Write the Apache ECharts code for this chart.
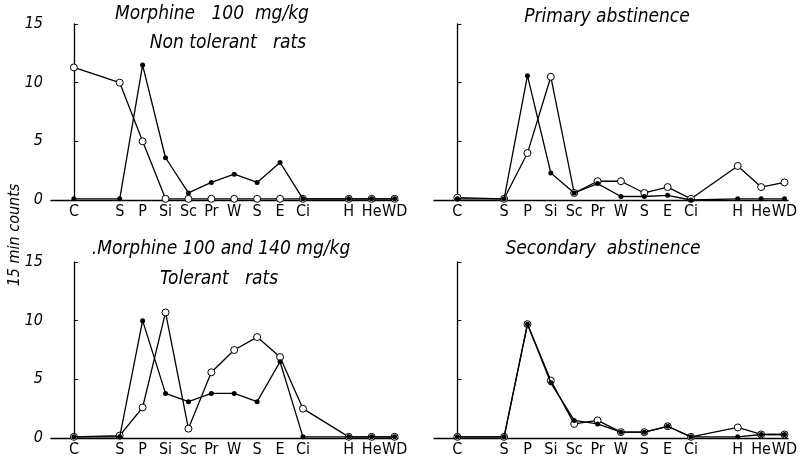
<!DOCTYPE html>
<html>
<head>
<meta charset="utf-8">
<script src="https://cdn.jsdelivr.net/npm/echarts@6/dist/echarts.min.js"></script>
<style>
  html, body { margin: 0; padding: 0; background: #fff; }
  #chart { width: 803px; height: 463px; }
</style>
</head>
<body>
<div id="chart"></div>
<script>
// stimulus schedule along the x axis (gaps before S and before H)
const catNames = ["C", "S", "P", "Si", "Sc", "Pr", "W", "S", "E", "Ci", "H", "He", "WD"];
const catPos = [0, 2, 3, 4, 5, 6, 7, 8, 9, 10, 12, 13, 14];
const yTicks = [0, 5, 10, 15];

// 15 min counts
const nonTolOpen   = [11.3, 10.0, 5.0, 0.1, 0.1, 0.1, 0.1, 0.1, 0.1, 0.1, 0.1, 0.1, 0.1];
const nonTolFilled = [0.1, 0.1, 11.5, 3.6, 0.6, 1.5, 2.2, 1.5, 3.2, 0.1, 0.1, 0.1, 0.1];
const primOpen     = [0.2, 0.1, 4.0, 10.5, 0.6, 1.6, 1.6, 0.6, 1.1, 0.1, 2.9, 1.1, 1.5];
const primFilled   = [0.1, 0.1, 10.6, 2.3, 0.6, 1.4, 0.3, 0.3, 0.4, 0.0, 0.1, 0.1, 0.1];
const tolOpen      = [0.1, 0.2, 2.6, 10.7, 0.8, 5.6, 7.5, 8.6, 6.9, 2.5, 0.1, 0.1, 0.1];
const tolFilled    = [0.1, 0.1, 10.0, 3.8, 3.1, 3.8, 3.8, 3.1, 6.5, 0.1, 0.1, 0.1, 0.1];
const secOpen      = [0.1, 0.1, 9.7, 4.9, 1.2, 1.5, 0.5, 0.5, 1.0, 0.1, 0.9, 0.3, 0.3];
const secFilled    = [0.1, 0.1, 9.7, 4.7, 1.5, 1.2, 0.5, 0.5, 1.0, 0.1, 0.1, 0.3, 0.3];

const labelFont = "'DejaVu Sans Condensed', 'Liberation Sans Narrow', sans-serif";
const posToName = {};
catPos.forEach((p, i) => { posToName[p] = catNames[i]; });

const grids = [
  { left: 51, top: 24, width: 347, height: 176 },
  { left: 434, top: 24, width: 354, height: 176 },
  { left: 51, top: 262, width: 347, height: 176 },
  { left: 434, top: 262, width: 354, height: 176 }
];

function xAxis(i) {
  return {
    gridIndex: i, type: "value", min: -1, max: 14.15, interval: 1,
    splitLine: { show: false },
    axisLine: { lineStyle: { color: "#000", width: 1.3 } },
    axisTick: { show: false },
    axisLabel: {
      color: "#000", fontFamily: labelFont, fontSize: 16, margin: 4,
      showMinLabel: true, showMaxLabel: true,
      formatter: v => posToName[v] || ""
    }
  };
}

function yAxis(i, withLabels) {
  return {
    gridIndex: i, type: "value", min: 0, max: 15, interval: 5,
    splitLine: { show: false },
    axisLine: { show: true, lineStyle: { color: "#000", width: 1.3 } },
    axisTick: { show: true, inside: true, length: 4, lineStyle: { color: "#000" } },
    axisLabel: {
      show: withLabels, color: "#000", fontFamily: labelFont,
      fontStyle: "italic", fontSize: 16, margin: 8,
      formatter: v => (yTicks.includes(v) ? String(v) : "")
    }
  };
}

function pts(vals) {
  return catPos.map((p, i) => [p, vals[i]]);
}

function openSeries(i, vals) {
  return {
    type: "line", xAxisIndex: i, yAxisIndex: i, data: pts(vals),
    symbol: "circle", symbolSize: 7, z: 2,
    lineStyle: { color: "#000", width: 1.3 },
    itemStyle: { color: "#fff", borderColor: "#000", borderWidth: 1 },
    animation: false
  };
}

function filledSeries(i, vals) {
  return {
    type: "line", xAxisIndex: i, yAxisIndex: i, data: pts(vals),
    symbol: "circle", symbolSize: 5, z: 3,
    lineStyle: { color: "#000", width: 1.3 },
    itemStyle: { color: "#000", borderColor: "#000", borderWidth: 0 },
    animation: false
  };
}

const titleStyle = {
  color: "#000", fontFamily: labelFont, fontStyle: "italic",
  fontWeight: "normal", fontSize: 19
};
function titleAt(text, x, y) {
  return { text: text, left: x, top: y, textAlign: "center", textStyle: titleStyle, padding: 0 };
}

const chart = echarts.init(document.getElementById("chart"));
chart.setOption({
  backgroundColor: "#fff",
  animation: false,
  title: [
    titleAt("Morphine   100  mg/kg", 212, 5),
    titleAt("Non tolerant   rats", 228, 34),
    titleAt("Primary abstinence", 607, 8),
    titleAt(".Morphine 100 and 140 mg/kg", 221, 240),
    titleAt("Tolerant   rats", 219, 270),
    titleAt("Secondary  abstinence", 603, 240)
  ],
  grid: grids,
  xAxis: [0, 1, 2, 3].map(xAxis),
  yAxis: [yAxis(0, true), yAxis(1, false), yAxis(2, true), yAxis(3, false)],
  series: [
    openSeries(0, nonTolOpen), filledSeries(0, nonTolFilled),
    openSeries(1, primOpen), filledSeries(1, primFilled),
    openSeries(2, tolOpen), filledSeries(2, tolFilled),
    openSeries(3, secOpen), filledSeries(3, secFilled)
  ],
  graphic: [{
    type: "text", x: 15, y: 235, rotation: Math.PI / 2,
    style: {
      text: "15 min counts", fill: "#000",
      font: "italic 16px " + labelFont,
      textAlign: "center", textVerticalAlign: "middle"
    }
  }]
});
</script>
</body>
</html>
